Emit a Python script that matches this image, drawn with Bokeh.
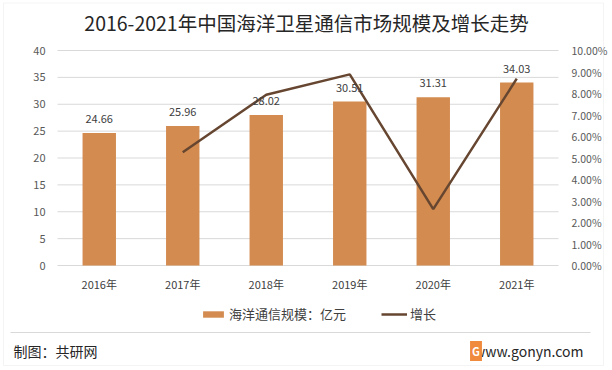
from bokeh.plotting import figure
from bokeh.models import (Range1d, LinearAxis, Label, LabelSet, Legend, LegendItem,
                          NumeralTickFormatter, ColumnDataSource, FixedTicker, BoxAnnotation)
from bokeh.core.properties import value
from bokeh.embed import file_html
from bokeh.resources import INLINE

# ---- data ----
years = ["2016年", "2017年", "2018年", "2019年", "2020年", "2021年"]
scale = [24.66, 25.96, 28.02, 30.51, 31.31, 34.03]
growth_years = ["2017年", "2018年", "2019年", "2020年", "2021年"]
growth = [0.0527, 0.0794, 0.0889, 0.0262, 0.0869]
left_ticks = [0, 5, 10, 15, 20, 25, 30, 35, 40]
right_ticks = [0.0, 0.01, 0.02, 0.03, 0.04, 0.05, 0.06, 0.07, 0.08, 0.09, 0.10]
title_text = "2016-2021年中国海洋卫星通信市场规模及增长走势"
bar_name = "海洋通信规模：亿元"
line_name = "增长"
source_text = "制图：共研网"
site_text = "www.gonyn.com"

FONT = "Noto Sans CJK SC"
BAR = "#D38B4F"
LINE = "#664630"
GRID = "#D9D9D9"
TXT = "#595959"

W, H = 612, 370
OX, OY = 4, 4  # canvas offset of the page origin

def sx(X):
    return X + OX

def sy(Y):
    return H - (Y + OY)

# plot area on the page: x 57..558, y 50 (value 40) .. 265 (value 0)
n = len(years)
pxc = (558 - 57) / n
x_lo = -sx(57) / pxc
x_hi = n + (W - sx(558)) / pxc
ppu = (265 - 50) / 40.0
y_lo = -(H - (265 + OY)) / ppu
y_hi = 40 + (50 + OY) / ppu
ppu2 = (265 - 50) / 0.10
p_lo = -(H - (265 + OY)) / ppu2
p_hi = 0.10 + (50 + OY) / ppu2

xpos = [i + 0.5 for i in range(n)]
gx = [years.index(y) + 0.5 for y in growth_years]

p = figure(width=W, height=H, x_range=Range1d(x_lo, x_hi), y_range=Range1d(y_lo, y_hi),
           output_backend="svg", toolbar_location=None,
           min_border_left=0, min_border_right=0, min_border_top=0, min_border_bottom=0)
p.margin = (-4, -12, -12, -4)
p.title.visible = False
p.outline_line_color = None
p.background_fill_color = "white"
p.border_fill_color = "white"
p.xgrid.visible = False
p.ygrid.visible = False

p.extra_y_ranges = {"pct": Range1d(p_lo, p_hi)}

# axes
la = p.yaxis[0]
la.fixed_location = 0
la.ticker = FixedTicker(ticks=left_ticks)
la.axis_line_color = None
la.major_tick_line_color = None
la.minor_tick_line_color = None
la.major_label_standoff = 6
la.major_label_text_font = FONT
la.major_label_text_font_size = "11px"
la.major_label_text_color = TXT

ra = LinearAxis(y_range_name="pct", ticker=FixedTicker(ticks=right_ticks),
                formatter=NumeralTickFormatter(format="0.00%"), fixed_location=n)
ra.axis_line_color = None
ra.major_tick_line_color = None
ra.minor_tick_line_color = None
ra.major_label_standoff = 7
ra.major_label_text_font = FONT
ra.major_label_text_font_size = "10.5px"
ra.major_label_text_color = TXT
p.add_layout(ra, "right")

xa = p.xaxis[0]
xa.fixed_location = 0
xa.ticker = FixedTicker(ticks=xpos)
xa.major_label_overrides = {x: y for x, y in zip(xpos, years)}
xa.axis_line_color = None
xa.major_tick_line_color = None
xa.minor_tick_line_color = None
xa.major_label_standoff = 4
xa.major_label_text_font = FONT
xa.major_label_text_font_size = "11px"
xa.major_label_text_color = "#404040"

# horizontal gridlines spanning the category area only
p.segment(x0=[0] * len(left_ticks), x1=[n] * len(left_ticks), y0=left_ticks,
          y1=left_ticks, line_color=GRID, line_width=1)

src = ColumnDataSource(dict(x=xpos, y=scale, t=[f"{v:.2f}" for v in scale]))
bars = p.vbar(x="x", top="y", width=0.4, source=src, fill_color=BAR, line_color=None)
p.add_layout(LabelSet(x="x", y="y", text="t", source=src, text_align="center",
                      text_baseline="bottom", y_offset=10, text_font=value(FONT),
                      text_font_size=value("11px"), text_color=value("#404040")))

line = p.line(x=gx, y=growth, y_range_name="pct", line_color=LINE, line_width=2.5)

legend = Legend(items=[LegendItem(label=bar_name, renderers=[bars]),
                       LegendItem(label=line_name, renderers=[line])],
                location=(sx(200), sy(323)), orientation="horizontal", padding=0, margin=0,
                spacing=35, label_standoff=3, glyph_width=26, glyph_height=8, label_height=16,
                border_line_color=None, background_fill_alpha=0,
                label_text_font=FONT, label_text_font_size="13px", label_text_color="#404040")
p.add_layout(legend)

p.add_layout(Label(x=sx(306), y=sy(21.5), x_units="screen", y_units="screen", text=title_text,
                   text_align="center", text_baseline="middle", text_font=FONT,
                   text_font_size="19.5px", text_color="#262626"))
p.add_layout(Label(x=sx(13), y=sy(350), x_units="screen", y_units="screen", text=source_text,
                   text_align="left", text_baseline="middle", text_font=FONT,
                   text_font_size="14px", text_color="#262626"))
p.add_layout(Label(x=sx(583), y=sy(350), x_units="screen", y_units="screen", text=site_text,
                   text_align="right", text_baseline="middle", text_font=FONT,
                   text_font_size="14px", text_color="#262626"))
p.add_layout(Label(x=sx(475.5), y=sy(350.5), x_units="screen", y_units="screen", text="G",
                   text_align="center", text_baseline="middle", text_font=FONT,
                   text_font_size="11px", text_font_style="bold", text_color="white",
                   background_fill_color="#F08A3C", padding=2))
# separator line and outer border
p.add_layout(BoxAnnotation(left=sx(10), right=sx(590), top=sy(331.5), bottom=sy(332.5),
                           left_units="screen", right_units="screen", top_units="screen",
                           bottom_units="screen", fill_color=GRID, fill_alpha=1, line_color=None))
p.add_layout(BoxAnnotation(left=sx(3), right=sx(603), top=sy(2.5), bottom=sy(365),
                           left_units="screen", right_units="screen", top_units="screen",
                           bottom_units="screen", fill_alpha=0, line_color=GRID, line_width=1))

open("out.html", "w").write(file_html(p, INLINE))
